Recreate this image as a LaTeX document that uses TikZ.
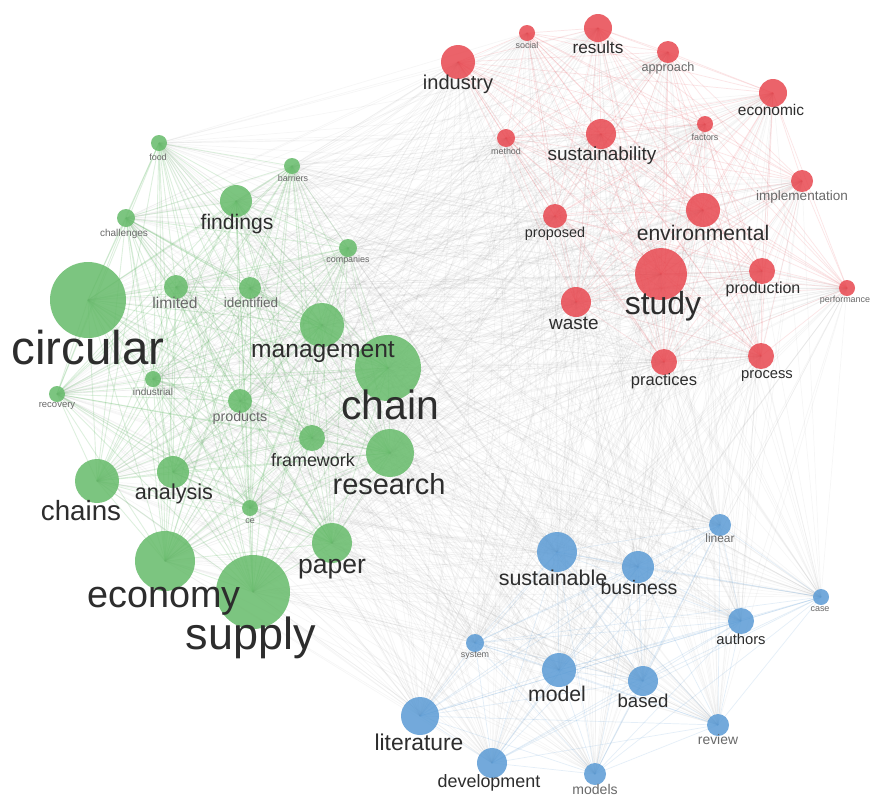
\documentclass[tikz,border=0pt]{standalone}
\usepackage{fontspec}
\setmainfont{Liberation Sans}
\usetikzlibrary{backgrounds}
\definecolor{gcol}{RGB}{102,187,106}
\definecolor{rcol}{RGB}{232,72,80}
\definecolor{bcol}{RGB}{91,155,213}
\definecolor{txt}{RGB}{45,45,45}
\definecolor{smalltxt}{RGB}{105,105,105}
\newcommand{\fsz}[1]{\fontsize{#1}{#1}\selectfont}
\tikzset{
  kw/.style={circle, inner sep=0pt, draw=none, fill opacity=.85, minimum size=#1*0.4mm},
  gkw/.style={kw=#1, fill=gcol},
  rkw/.style={kw=#1, fill=rcol},
  bkw/.style={kw=#1, fill=bcol},
  lbl/.style={inner sep=0pt, text=txt, font=\fsz{#1}},
  slbl/.style={inner sep=0pt, text=smalltxt, font=\fsz{#1}},
  gedge/.style={gcol, draw opacity=.22, line width=.5pt},
  redge/.style={rcol, draw opacity=.14, line width=.4pt},
  bedge/.style={bcol, draw opacity=.16, line width=.4pt},
  xedge/.style={gray, draw opacity=.07, line width=.4pt},
}
\begin{document}
\begin{tikzpicture}[x=0.02cm, y=-0.02cm]
  \useasboundingbox (0,0) rectangle (871,796);

  % green cluster
  \node[gkw=38] (circular) at (88,300) {};
  \node[gkw=33] (chain) at (388,368) {};
  \node[gkw=37] (supply) at (253,592) {};
  \node[gkw=30] (economy) at (165,561) {};
  \node[gkw=22] (management) at (322,325) {};
  \node[gkw=24] (research) at (390,453) {};
  \node[gkw=22] (chains) at (97,481) {};
  \node[gkw=16] (analysis) at (173,472) {};
  \node[gkw=20] (paper) at (332,543) {};
  \node[gkw=16] (findings) at (236,201) {};
  \node[gkw=13] (framework) at (312,438) {};
  \node[gkw=12] (limited) at (176,287) {};
  \node[gkw=11] (identified) at (250,288) {};
  \node[gkw=8] (industrial) at (153,379) {};
  \node[gkw=8] (recovery) at (57,394) {};
  \node[gkw=12] (products) at (240,401) {};
  \node[gkw=9] (challenges) at (126,218) {};
  \node[gkw=8] (food) at (159,143) {};
  \node[gkw=8] (barriers) at (292,166) {};
  \node[gkw=9] (companies) at (348,248) {};
  \node[gkw=8] (ce) at (250,508) {};

  % red cluster
  \node[rkw=26] (study) at (661,274) {};
  \node[rkw=17] (environmental) at (703,210) {};
  \node[rkw=17] (industry) at (458,62) {};
  \node[rkw=14] (results) at (598,28) {};
  \node[rkw=15] (sustainability) at (601,134) {};
  \node[rkw=14] (economic) at (773,93) {};
  \node[rkw=8] (factors) at (705,124) {};
  \node[rkw=11] (approach) at (668,52) {};
  \node[rkw=8] (social) at (527,33) {};
  \node[rkw=9] (method) at (506,138) {};
  \node[rkw=11] (implementation) at (802,181) {};
  \node[rkw=12] (proposed) at (555,216) {};
  \node[rkw=13] (production) at (762,271) {};
  \node[rkw=8] (performance) at (847,288) {};
  \node[rkw=15] (waste) at (576,302) {};
  \node[rkw=13] (practices) at (664,362) {};
  \node[rkw=13] (process) at (761,356) {};

  % blue cluster
  \node[bkw=20] (sustainable) at (557,552) {};
  \node[bkw=16] (business) at (638,567) {};
  \node[bkw=11] (linear) at (720,525) {};
  \node[bkw=8] (case) at (821,597) {};
  \node[bkw=13] (authors) at (741,621) {};
  \node[bkw=9] (system) at (475,643) {};
  \node[bkw=17] (model) at (559,670) {};
  \node[bkw=15] (based) at (643,681) {};
  \node[bkw=19] (literature) at (420,716) {};
  \node[bkw=15] (development) at (492,763) {};
  \node[bkw=11] (models) at (595,774) {};
  \node[bkw=11] (review) at (718,725) {};

  % links behind the circles
  \begin{scope}[on background layer]
    \fill[white] (0,0) rectangle (871,796);
    \def\greens{circular,chain,supply,economy,management,research,chains,analysis,paper,findings,framework,limited,identified,industrial,recovery,products,challenges,food,barriers,companies,ce}
    \def\reds{study,environmental,industry,results,sustainability,economic,factors,approach,social,method,implementation,proposed,production,performance,waste,practices,process}
    \def\blues{sustainable,business,linear,case,authors,system,model,based,literature,development,models,review}
    \foreach \u [count=\i] in \greens {
      \foreach \v [count=\j] in \greens {
        \ifnum\j>\i \draw[gedge] (\u.center) -- (\v.center); \fi
      }
      \foreach \v in \reds {\draw[xedge] (\u.center) -- (\v.center);}
      \foreach \v in \blues {\draw[xedge] (\u.center) -- (\v.center);}
    }
    \foreach \u [count=\i] in \reds {
      \foreach \v [count=\j] in \reds {
        \ifnum\j>\i \draw[redge] (\u.center) -- (\v.center); \fi
      }
      \foreach \v in \blues {\draw[xedge] (\u.center) -- (\v.center);}
    }
    \foreach \u [count=\i] in \blues {
      \foreach \v [count=\j] in \blues {
        \ifnum\j>\i \draw[bedge] (\u.center) -- (\v.center); \fi
      }
    }
  \end{scope}

  % labels
  \node[lbl=27pt] (l-circular) at (88,348) {circular};
  \node[lbl=23.3pt] (l-chain) at (390,405) {chain};
  \node[lbl=25.6pt] (l-supply) at (251,638) {supply};
  \node[lbl=21.5pt] (l-economy) at (164,601) {economy};
  \node[lbl=14pt] (l-management) at (323,352) {management};
  \node[lbl=16.5pt] (l-research) at (389,484) {research};
  \node[lbl=15.8pt] (l-chains) at (81,511) {chains};
  \node[lbl=12.3pt] (l-analysis) at (174,494) {analysis};
  \node[lbl=15.1pt] (l-paper) at (332,569) {paper};
  \node[lbl=12pt] (l-findings) at (237,224) {findings};
  \node[lbl=10.2pt] (l-framework) at (313,460) {framework};
  \node[slbl=8.9pt] (l-limited) at (175,303) {limited};
  \node[slbl=7.7pt] (l-identified) at (251,303) {identified};
  \node[slbl=5.7pt] (l-industrial) at (153,392) {industrial};
  \node[slbl=5.4pt] (l-recovery) at (57,406) {recovery};
  \node[slbl=8.1pt] (l-products) at (240,418) {products};
  \node[slbl=5.7pt] (l-challenges) at (124,234) {challenges};
  \node[slbl=5.1pt] (l-food) at (158,157) {food};
  \node[slbl=5.1pt] (l-barriers) at (293,178) {barriers};
  \node[slbl=5.1pt] (l-companies) at (348,260) {companies};
  \node[slbl=5.1pt] (l-ce) at (250,521) {ce};

  \node[lbl=18.2pt] (l-study) at (663,306) {study};
  \node[lbl=12pt] (l-environmental) at (703,233) {environmental};
  \node[lbl=11.4pt] (l-industry) at (458,84) {industry};
  \node[lbl=9.8pt] (l-results) at (598,47) {results};
  \node[lbl=10.8pt] (l-sustainability) at (602,156) {sustainability};
  \node[lbl=8.8pt] (l-economic) at (771,110) {economic};
  \node[slbl=5.1pt] (l-factors) at (705,137) {factors};
  \node[slbl=7.2pt] (l-approach) at (668,68) {approach};
  \node[slbl=5.1pt] (l-social) at (527,45) {social};
  \node[slbl=5.1pt] (l-method) at (506,151) {method};
  \node[slbl=7.7pt] (l-implementation) at (802,197) {implementation};
  \node[lbl=8.2pt] (l-proposed) at (555,234) {proposed};
  \node[lbl=9.1pt] (l-production) at (763,289) {production};
  \node[slbl=5.1pt] (l-performance) at (845,300) {performance};
  \node[lbl=10.8pt] (l-waste) at (574,323) {waste};
  \node[lbl=9.4pt] (l-practices) at (664,381) {practices};
  \node[lbl=8.4pt] (l-process) at (767,376) {process};

  \node[lbl=12.2pt] (l-sustainable) at (553,578) {sustainable};
  \node[lbl=11.1pt] (l-business) at (639,588) {business};
  \node[slbl=6.8pt] (l-linear) at (720,538) {linear};
  \node[slbl=5.1pt] (l-case) at (820,609) {case};
  \node[lbl=8.4pt] (l-authors) at (741,639) {authors};
  \node[slbl=5.1pt] (l-system) at (475,656) {system};
  \node[lbl=12.1pt] (l-model) at (557,694) {model};
  \node[lbl=10.6pt] (l-based) at (643,701) {based};
  \node[lbl=13pt] (l-literature) at (419,742) {literature};
  \node[lbl=10.2pt] (l-development) at (489,783) {development};
  \node[slbl=8pt] (l-models) at (595,789) {models};
  \node[slbl=7.9pt] (l-review) at (718,740) {review};
\end{tikzpicture}
\end{document}
